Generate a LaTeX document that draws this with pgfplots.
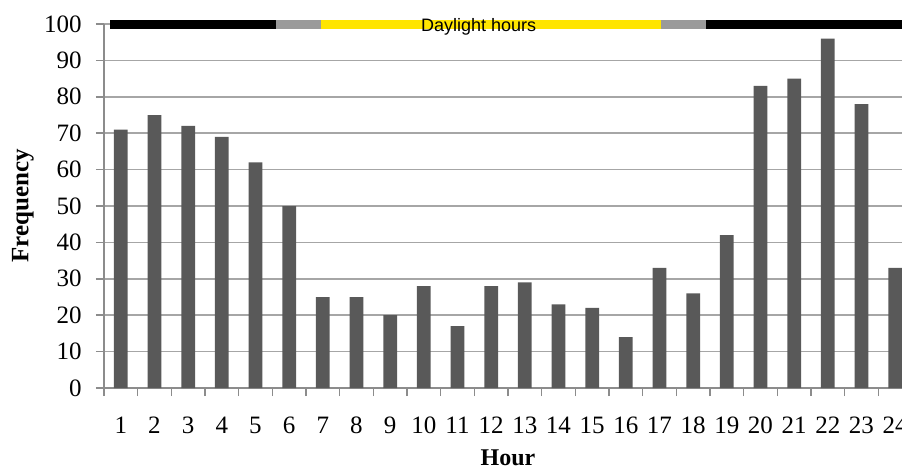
\documentclass[border=0pt]{standalone}
\usepackage{pgfplots}
\pgfplotsset{compat=1.18}
\usepackage{fontspec}
\setmainfont{Liberation Serif}
\newfontfamily\sansf{Liberation Sans}
\definecolor{bargray}{HTML}{595959}
\definecolor{gridgray}{HTML}{A6A6A6}
\definecolor{axgray}{HTML}{8C8C8C}
\definecolor{twil}{HTML}{9A9A9A}
\definecolor{dayyel}{HTML}{FFE500}
\begin{document}
\begin{tikzpicture}
\useasboundingbox (-52pt,-40pt) rectangle (399pt,194pt);
\clip (-52pt,-40pt) rectangle (399pt,194pt);
\begin{axis}[
  at={(0pt,0pt)}, anchor=south west,
  width=404pt, height=182pt, scale only axis,
  xmin=0.5, xmax=24.5, ymin=0, ymax=100,
  axis lines=left,
  axis line style={-, draw=axgray, line width=0.8pt},
  clip=false,
  xtick={0.5,1.5,...,24.5},
  x tick label as interval,
  xticklabels={1,2,3,4,5,6,7,8,9,10,11,12,13,14,15,16,17,18,19,20,21,22,23,24},
  ytick={0,10,...,100},
  tick align=outside,
  major tick length=4pt,
  tick style={draw=axgray, line width=0.8pt},
  ymajorgrids,
  grid style={draw=gridgray, line width=0.8pt},
  /pgf/number format/assume math mode=true,
  tick label style={font=\fontsize{12.5}{14}\selectfont},
  yticklabel style={anchor=east, inner sep=0pt, xshift=-7pt, font=\fontsize{12.5}{14}\selectfont},
  xticklabel style={anchor=north, inner sep=0pt, text height=8.3pt, text depth=0pt, yshift=-10pt, font=\fontsize{12.5}{14}\selectfont},
  xlabel={Hour}, ylabel={Frequency},
  every axis x label/.style={at={(axis description cs:0.5,0)}, anchor=base, yshift=-38.5pt, font=\fontsize{12}{14}\selectfont\bfseries},
  every axis y label/.style={at={(axis description cs:0,0.5)}, xshift=-40.5pt, rotate=90, anchor=center, font=\fontsize{12.5}{14}\selectfont\bfseries},
]
\addplot[ybar, bar width=6.85pt, fill=bargray, draw=none] coordinates {
(1,71) (2,75) (3,72) (4,69) (5,62) (6,50) (7,25) (8,25) (9,20) (10,28) (11,17) (12,28)
(13,29) (14,23) (15,22) (16,14) (17,33) (18,26) (19,42) (20,83) (21,85) (22,96) (23,78) (24,33)};
% daylight band at y = 100
\addplot[black, line width=4.5pt, line cap=butt, forget plot] coordinates {(0.68,100) (5.6,100)};
\addplot[twil, line width=4.5pt, line cap=butt, forget plot] coordinates {(5.6,100) (6.94,100)};
\addplot[dayyel, line width=4.5pt, line cap=butt, forget plot] coordinates {(6.94,100) (17.03,100)};
\addplot[twil, line width=4.5pt, line cap=butt, forget plot] coordinates {(17.03,100) (18.39,100)};
\addplot[black, line width=4.5pt, line cap=butt, forget plot] coordinates {(18.39,100) (24.6,100)};
\node[font=\sansf\fontsize{9}{10}\selectfont, anchor=base, yshift=-3.8pt] at (axis cs:11.63,100) {Daylight hours};
\end{axis}
\end{tikzpicture}
\end{document}
